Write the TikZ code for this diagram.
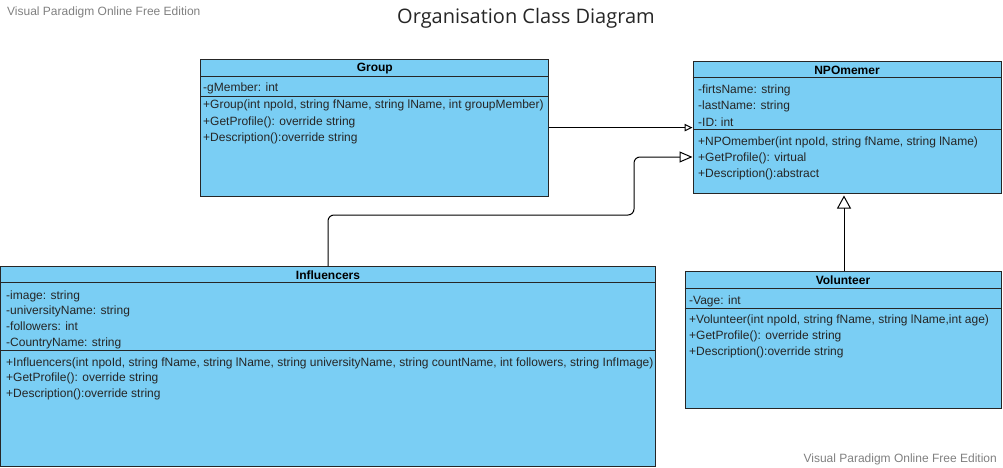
\documentclass[tikz,border=0pt]{standalone}
\usepackage{fontspec}
\setmainfont{Liberation Sans}
\newfontfamily\titlefont{Open Sans}
\usetikzlibrary{positioning,arrows.meta}
\definecolor{clsblue}{HTML}{7ACEF4}
\definecolor{wmgray}{HTML}{808080}

\begin{document}
\begin{tikzpicture}[x=1pt, y=-1pt, font=\fontsize{12}{14}\selectfont,
  cls/.style={draw=black!85, line width=1pt, fill=clsblue, inner sep=0pt},
  head/.style={font=\fontsize{12}{14}\selectfont\bfseries, anchor=base, inner sep=0pt},
  member/.style={anchor=base west, inner sep=0pt, text=black!85},
  sep/.style={draw=black!85, line width=1pt},
  gen/.style={draw=black, line width=1pt},
  mark text/.style={text=wmgray, font=\fontsize{12}{14}\selectfont, inner sep=0pt},
]
\useasboundingbox (0,0) rectangle (1003,468);

% title and watermarks
\node[font=\titlefont\fontsize{20}{22}\selectfont, text=black!85] (title) at (526,18)
  {Organisation Class Diagram};
\node[mark text, anchor=base west] (wmtop) at (7,16) {Visual Paradigm Online Free Edition};
\node[mark text, anchor=base east] (wmbot) at (997,462) {Visual Paradigm Online Free Edition};

% class boxes
\node[cls, minimum width=348pt, minimum height=137pt] (group) at (374.8,127.6) {};
\node[cls, minimum width=308pt, minimum height=131pt] (npo) at (847,127.5) {};
\node[cls, minimum width=655pt, minimum height=200pt] (infl) at (328,366.7) {};
\node[cls, minimum width=316pt, minimum height=137pt] (vol) at (843,340.4) {};

% compartments
\draw[sep] ([yshift=-18pt]group.north west) -- ([yshift=-18pt]group.north east);
\draw[sep] ([yshift=-38pt]group.north west) -- ([yshift=-38pt]group.north east);
\draw[sep] ([yshift=-16pt]npo.north west) -- ([yshift=-16pt]npo.north east);
\draw[sep] ([yshift=-68pt]npo.north west) -- ([yshift=-68pt]npo.north east);
\draw[sep] ([yshift=-16.5pt]infl.north west) -- ([yshift=-16.5pt]infl.north east);
\draw[sep] ([yshift=-84.5pt]infl.north west) -- ([yshift=-84.5pt]infl.north east);
\draw[sep] ([yshift=-17pt]vol.north west) -- ([yshift=-17pt]vol.north east);
\draw[sep] ([yshift=-37pt]vol.north west) -- ([yshift=-37pt]vol.north east);

% class names
\node[head] (grouphd) at (374.8,71.5) {Group};
\node[head] (npohd) at (847,74.5) {NPOmemer};
\node[head] (inflhd) at (328,279) {Influencers};
\node[head] (volhd) at (843,284.5) {Volunteer};

% Group
\node[member] (grpa1) at (203,92) {-gMember: int};
\foreach \txt [count=\i] in {{+Group(int npoId, string fName, string lName, int groupMember)},
    {+GetProfile(): override string}, {+Description():override string}}
  \node[member] (grpm\i) at (203,{93+16*\i}) {\txt};

% NPOmemer
\foreach \txt [count=\i] in {{-firtsName: string}, {-lastName: string}, {-ID: int}}
  \node[member] (npoa\i) at (698,{78+16*\i}) {\txt};
\foreach \txt [count=\i] in {{+NPOmember(int npoId, string fName, string lName)},
    {+GetProfile(): virtual}, {+Description():abstract}}
  \node[member] (npom\i) at (698,{129+16*\i}) {\txt};

% Influencers
\foreach \txt [count=\i] in {{-image: string}, {-universityName: string}, {-followers: int},
    {-CountryName: string}}
  \node[member] (infa\i) at (6,{283.5+15.67*\i}) {\txt};
\foreach \txt [count=\i] in {{+Influencers(int npoId, string fName, string lName, string universityName, string countName, int followers, string InfImage)},
    {+GetProfile(): override string}, {+Description():override string}}
  \node[member] (infm\i) at (6,{350.5+15.67*\i}) {\txt};

% Volunteer
\node[member] (vola1) at (689,304) {-Vage: int};
\foreach \txt [count=\i] in {{+Volunteer(int npoId, string fName, string lName,int age)},
    {+GetProfile(): override string}, {+Description():override string}}
  \node[member] (volm\i) at (689,{307+16*\i}) {\txt};

% generalisations
\coordinate (inflturn) at (634,215);
\coordinate (inflend) at (npo.west |- 0,157);
\draw[gen, -{Triangle[open, length=8pt, width=7.5pt]}] (group.east) -- (group.east -| npo.west);
\draw[gen, -{Triangle[open, length=13pt, width=11pt]}, rounded corners=6pt]
  (infl.north) |- (inflturn) |- (inflend);
\draw[gen, -{Triangle[open, length=13pt, width=14pt]}] (vol.north -| 844,0) -- ([yshift=-2pt]npo.south -| 844,0);
\end{tikzpicture}
\end{document}
